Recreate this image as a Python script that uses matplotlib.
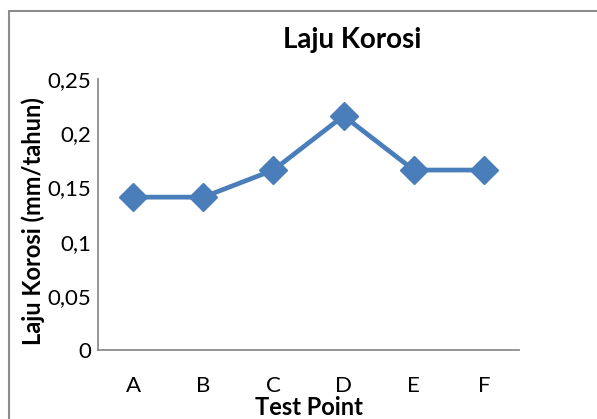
import matplotlib
matplotlib.use("Agg")
import matplotlib.pyplot as plt
from matplotlib.patches import Rectangle

# Data
test_points = ["A", "B", "C", "D", "E", "F"]
laju_korosi = [0.141, 0.141, 0.166, 0.216, 0.166, 0.166]
y_ticks = [0, 0.05, 0.1, 0.15, 0.2, 0.25]
y_tick_labels = ["0", "0,05", "0,1", "0,15", "0,2", "0,25"]

W, H = 597, 419
plt.rcParams['font.family'] = ['Lato', 'DejaVu Sans']

fig = plt.figure(figsize=(W / 100, H / 100), dpi=100)
ax = fig.add_axes([98 / W, 1 - 350 / H, (519 - 98) / W, (350 - 79) / H])

line_color = "#4A7EBB"
ax.plot(range(len(test_points)), laju_korosi, color=line_color, linewidth=3.4,
        marker="D", markersize=14, markerfacecolor=line_color,
        markeredgecolor=line_color)

ax.set_xlim(-0.5, len(test_points) - 0.5)
ax.set_ylim(0, 0.25)
ax.set_xticks(range(len(test_points)))
ax.set_xticklabels(test_points)
ax.set_yticks(y_ticks)
ax.set_yticklabels(y_tick_labels)
ax.tick_params(axis="both", length=0, labelsize=16, colors="black")
ax.tick_params(axis="x", pad=19)
ax.tick_params(axis="y", pad=5)

for side in ["top", "right"]:
    ax.spines[side].set_visible(False)
for side in ["left", "bottom"]:
    ax.spines[side].set_color("#8C8C8C")
    ax.spines[side].set_linewidth(1.3)

# axis titles placed like the Excel chart
fig.text(309 / W, 1 - 407 / H, "Test Point", ha="center", va="center",
         fontsize=17, fontweight="bold")
fig.text(33 / W, 1 - 221 / H, "Laju Korosi (mm/tahun)", ha="center", va="center",
         rotation=90, fontsize=17, fontweight="bold")

fig.text(352 / W, 1 - 40 / H, "Laju Korosi", ha="center", va="center",
         fontsize=20, fontweight="bold")

# chart area border (right/bottom edges fall outside the image)
fig.patches.append(Rectangle((9 / W, -0.05), 1.2, 1 - 11 / H + 0.05,
                             transform=fig.transFigure, fill=False,
                             edgecolor="#8C8C8C", linewidth=1.5))

fig.savefig("out.png", dpi=100)
